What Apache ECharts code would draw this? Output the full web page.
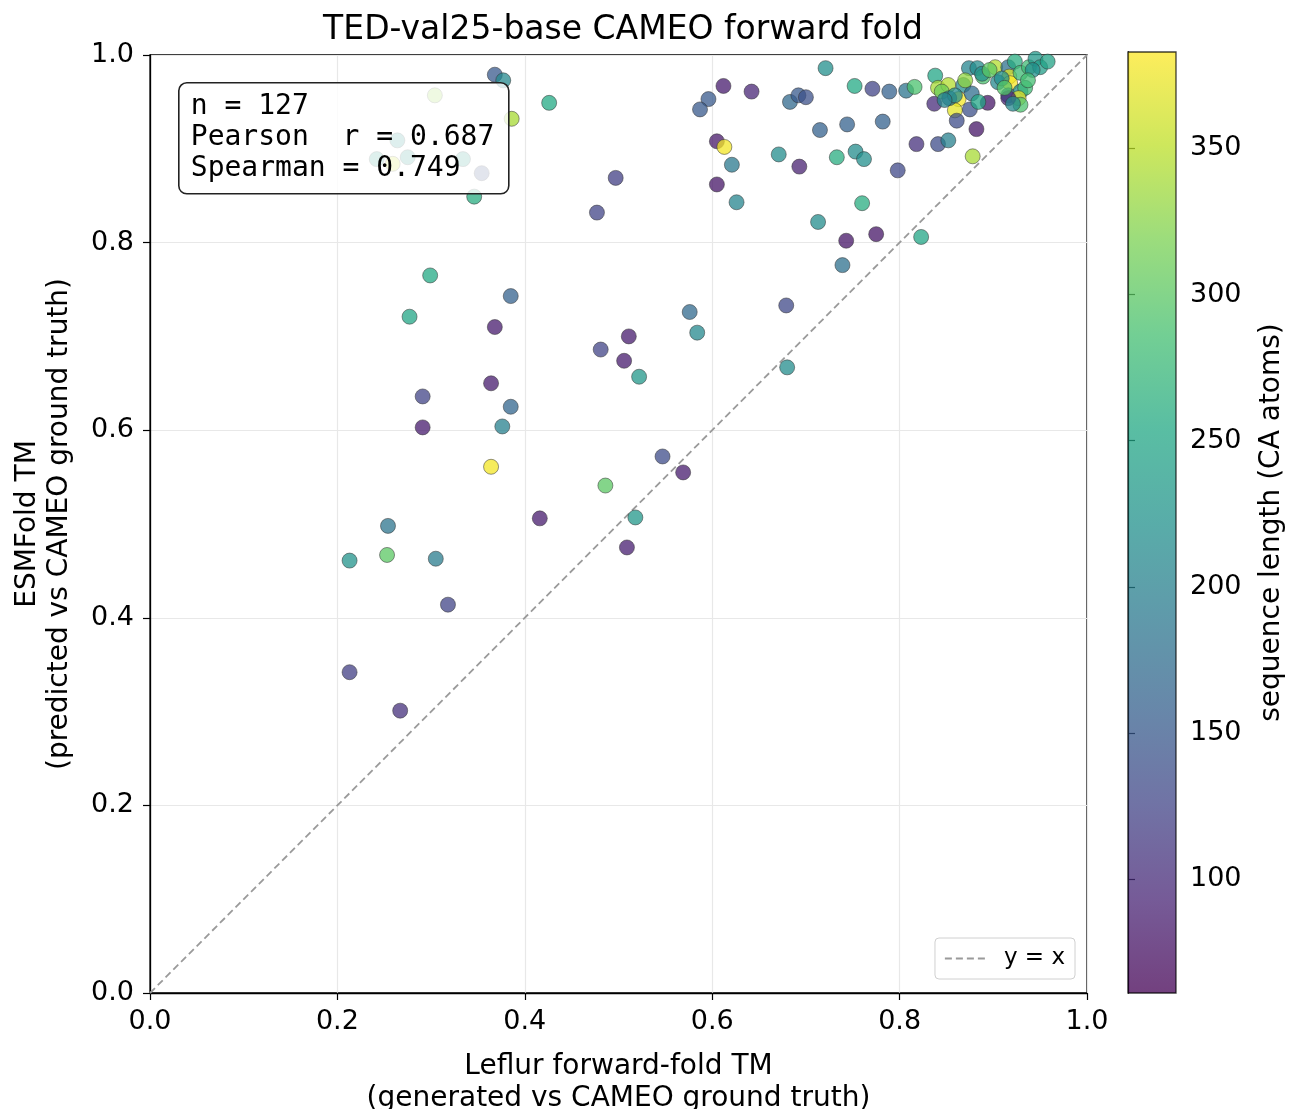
<!DOCTYPE html>
<html>
<head>
<meta charset="utf-8">
<script src="https://cdn.jsdelivr.net/npm/echarts@6/dist/echarts.min.js"></script>
<style>
  html, body { margin: 0; padding: 0; background: #fff; }
  #main { width: 1291px; height: 1109px; }
</style>
</head>
<body>
<div id="main"></div>
<script>
// Leflur forward-fold TM (x) vs ESMFold TM (y), colour = sequence length
const leflurTM = [
    0.213, 0.267, 0.213, 0.254, 0.253, 0.305, 0.318, 0.291, 0.291, 0.299,
    0.277, 0.364, 0.368, 0.385, 0.385, 0.376, 0.364, 0.416, 0.486, 0.518,
    0.509, 0.547, 0.569, 0.481, 0.511, 0.506, 0.522, 0.576, 0.584, 0.679,
    0.680, 0.346, 0.368, 0.377, 0.386, 0.304, 0.264, 0.275, 0.242, 0.259,
    0.334, 0.354, 0.426, 0.497, 0.477, 0.612, 0.642, 0.596, 0.587, 0.683,
    0.692, 0.700, 0.605, 0.613, 0.621, 0.671, 0.693, 0.605, 0.626, 0.715,
    0.733, 0.753, 0.762, 0.798, 0.818, 0.841, 0.852, 0.760, 0.713, 0.743,
    0.775, 0.739, 0.823, 0.721, 0.752, 0.771, 0.789, 0.807, 0.816, 0.744,
    0.782, 0.838, 0.837, 0.841, 0.852, 0.845, 0.868, 0.863, 0.859, 0.853,
    0.877, 0.875, 0.861, 0.882, 0.894, 0.884, 0.878, 0.874, 0.883, 0.902,
    0.889, 0.916, 0.923, 0.917, 0.905, 0.918, 0.929, 0.938, 0.945, 0.950,
    0.958, 0.916, 0.929, 0.934, 0.927, 0.929, 0.916, 0.909, 0.888, 0.942,
    0.859, 0.912, 0.896, 0.870, 0.921, 0.937, 0.848
];
const esmfoldTM = [
    0.342, 0.301, 0.461, 0.498, 0.467, 0.463, 0.414, 0.636, 0.603, 0.765,
    0.721, 0.650, 0.710, 0.743, 0.625, 0.604, 0.561, 0.506, 0.541, 0.507,
    0.475, 0.572, 0.555, 0.686, 0.700, 0.674, 0.657, 0.726, 0.704, 0.733,
    0.667, 0.849, 0.979, 0.973, 0.932, 0.957, 0.909, 0.891, 0.889, 0.884,
    0.889, 0.874, 0.949, 0.869, 0.832, 0.967, 0.961, 0.953, 0.942, 0.950,
    0.957, 0.955, 0.908, 0.902, 0.883, 0.894, 0.881, 0.862, 0.843, 0.920,
    0.891, 0.897, 0.889, 0.877, 0.905, 0.905, 0.909, 0.842, 0.822, 0.802,
    0.809, 0.776, 0.806, 0.986, 0.967, 0.964, 0.961, 0.962, 0.966, 0.926,
    0.929, 0.978, 0.948, 0.965, 0.968, 0.961, 0.968, 0.953, 0.941, 0.954,
    0.959, 0.942, 0.930, 0.921, 0.949, 0.950, 0.892, 0.986, 0.986, 0.987,
    0.977, 0.987, 0.993, 0.977, 0.971, 0.970, 0.981, 0.987, 0.996, 0.987,
    0.993, 0.957, 0.961, 0.965, 0.954, 0.947, 0.954, 0.975, 0.980, 0.984,
    0.957, 0.965, 0.984, 0.973, 0.948, 0.973, 0.952
];
const seqLength = [
    120, 105, 225, 185, 300, 195, 125, 125, 85, 255,
    250, 85, 85, 160, 165, 200, 378, 85, 300, 230,
    88, 135, 85, 125, 85, 85, 230, 170, 210, 130,
    215, 260, 150, 210, 340, 330, 225, 230, 240, 360,
    235, 140, 255, 120, 125, 85, 95, 150, 150, 170,
    150, 140, 82, 378, 190, 215, 90, 80, 205, 160,
    260, 215, 220, 130, 105, 135, 200, 260, 215, 80,
    80, 180, 250, 220, 255, 125, 160, 185, 290, 160,
    160, 250, 100, 340, 345, 310, 215, 378, 370, 190,
    175, 140, 135, 80, 80, 250, 340, 205, 215, 345,
    290, 180, 260, 365, 210, 380, 280, 280, 230, 240,
    245, 180, 220, 280, 370, 290, 95, 220, 220, 220,
    215, 295, 300, 330, 210, 285, 205
];
const lenMin = 61;
const lenMax = 383;
const statLines = ['n = 127', 'Pearson  r = 0.687', 'Spearman = 0.749'];

const viridis = ['#440154', '#482475', '#414487', '#355f8d', '#2a788e', '#21918c',
    '#22a884', '#44bf70', '#7ad151', '#bddf26', '#fde725'];

const points = leflurTM.map((x, i) => [x, esmfoldTM[i], seqLength[i]]);

const FONT = 'DejaVu Sans';
const fmt1 = (v) => v.toFixed(1);

let chart = echarts.init(document.getElementById('main'));
let option = {
    animation: false,
    backgroundColor: '#fff',
    title: {
        text: 'TED-val25-base CAMEO forward fold',
        left: 618,
        top: 9,
        textAlign: 'center',
        textStyle: {fontFamily: FONT, fontSize: 33, fontWeight: 'normal', color: '#000'}
    },
    grid: [
        {left: 150, top: 55, width: 937, height: 938, outerBoundsMode: 'none', containLabel: false,
            show: true, borderColor: '#000', borderWidth: 1.3, backgroundColor: 'transparent'},
        {left: 1128, top: 52, width: 48, height: 941, outerBoundsMode: 'none', containLabel: false}
    ],
    legend: {
        data: ['y = x'],
        right: 216,
        top: 938,
        orient: 'vertical',
        padding: [9, 10, 9, 9],
        borderColor: '#d0d0d0',
        borderWidth: 1,
        borderRadius: 4,
        itemWidth: 40,
        itemHeight: 14,
        itemStyle: {opacity: 0, borderWidth: 0},
        lineStyle: {color: '#9a9a9a', width: 1.8, type: [7, 4]},
        textStyle: {fontFamily: FONT, fontSize: 23, color: '#000', padding: [0, 0, 0, 14]}
    },
    visualMap: {
        show: false,
        type: 'continuous',
        seriesIndex: 0,
        dimension: 2,
        min: lenMin,
        max: lenMax,
        inRange: {color: viridis}
    },
    xAxis: [
        {
            gridIndex: 0, type: 'value', min: 0, max: 1, interval: 0.2,
            name: 'Leflur forward-fold TM\n(generated vs CAMEO ground truth)',
            nameLocation: 'middle', nameGap: 58,
            nameTextStyle: {fontFamily: FONT, fontSize: 28, color: '#000', lineHeight: 32},
            axisLine: {show: true, lineStyle: {color: '#000', width: 1.3}},
            axisTick: {show: true, length: 7, lineStyle: {color: '#000', width: 1.2}},
            axisLabel: {formatter: fmt1, fontFamily: FONT, fontSize: 27, color: '#000', margin: 15},
            splitLine: {show: true, lineStyle: {color: '#e8e8e8', width: 1.2}}
        },
        {gridIndex: 1, type: 'value', min: 0, max: 1, show: false}
    ],
    yAxis: [
        {
            gridIndex: 0, type: 'value', min: 0, max: 1, interval: 0.2,
            name: 'ESMFold TM\n(predicted vs CAMEO ground truth)',
            nameLocation: 'middle', nameGap: 74, nameRotate: 90,
            nameTextStyle: {fontFamily: FONT, fontSize: 28, color: '#000', lineHeight: 32},
            axisLine: {show: true, lineStyle: {color: '#000', width: 1.3}},
            axisTick: {show: true, length: 7, lineStyle: {color: '#000', width: 1.2}},
            axisLabel: {formatter: fmt1, fontFamily: FONT, fontSize: 27, color: '#000', margin: 16},
            splitLine: {show: true, lineStyle: {color: '#e8e8e8', width: 1.2}}
        },
        {
            gridIndex: 1, type: 'value', min: lenMin, max: lenMax, splitNumber: 5,
            position: 'right',
            name: 'sequence length (CA atoms)',
            nameLocation: 'middle', nameGap: 82, nameRotate: 90,
            nameTextStyle: {fontFamily: FONT, fontSize: 28, color: '#000'},
            axisLine: {show: true, lineStyle: {color: '#000', width: 1.3}},
            axisTick: {show: true, length: 7, lineStyle: {color: '#000', width: 1.2}},
            axisLabel: {fontFamily: FONT, fontSize: 27, color: '#000', margin: 14, showMinLabel: false, showMaxLabel: false},
            splitLine: {show: false}
        }
    ],
    series: [
        {
            name: 'points',
            type: 'scatter',
            xAxisIndex: 0,
            yAxisIndex: 0,
            data: points,
            symbolSize: 15,
            itemStyle: {opacity: 0.75, borderColor: '#333', borderWidth: 0.7},
            z: 3
        },
        {
            name: 'y = x',
            type: 'line',
            xAxisIndex: 0,
            yAxisIndex: 0,
            data: [[0, 0], [1, 1]],
            symbol: 'none',
            lineStyle: {color: '#9a9a9a', width: 1.8, type: [7, 4]},
            itemStyle: {color: '#9a9a9a'},
            z: 2
        },
        {
            name: 'colorbar',
            type: 'custom',
            xAxisIndex: 1,
            yAxisIndex: 1,
            data: [[0, lenMin, lenMax]],
            renderItem: function (params, api) {
                let p0 = api.coord([0, api.value(2)]);
                let p1 = api.coord([1, api.value(1)]);
                return {
                    type: 'rect',
                    shape: {x: p0[0], y: p0[1], width: p1[0] - p0[0], height: p1[1] - p0[1]},
                    style: {
                        fill: new echarts.graphic.LinearGradient(0, 1, 0, 0,
                            viridis.map((c, k) => ({offset: k / (viridis.length - 1), color: c}))),
                        opacity: 0.75,
                        stroke: '#000',
                        lineWidth: 1.3
                    }
                };
            },
            silent: true
        }
    ],
    graphic: [
        {
            type: 'group',
            left: 178,
            top: 82,
            z: 100,
            children: [
                {
                    type: 'rect',
                    shape: {x: 0, y: 0, width: 330, height: 111, r: 8},
                    style: {fill: 'rgba(255,255,255,0.8)', stroke: '#222', lineWidth: 1.6},
                    z: 100
                },
                {
                    type: 'text',
                    x: 12,
                    y: 8,
                    style: {
                        text: statLines.join('\n'),
                        font: '28px "DejaVu Sans Mono"',
                        lineHeight: 31,
                        fill: '#000'
                    },
                    z: 101
                }
            ]
        }
    ]
};
chart.setOption(option);
</script>
</body>
</html>
